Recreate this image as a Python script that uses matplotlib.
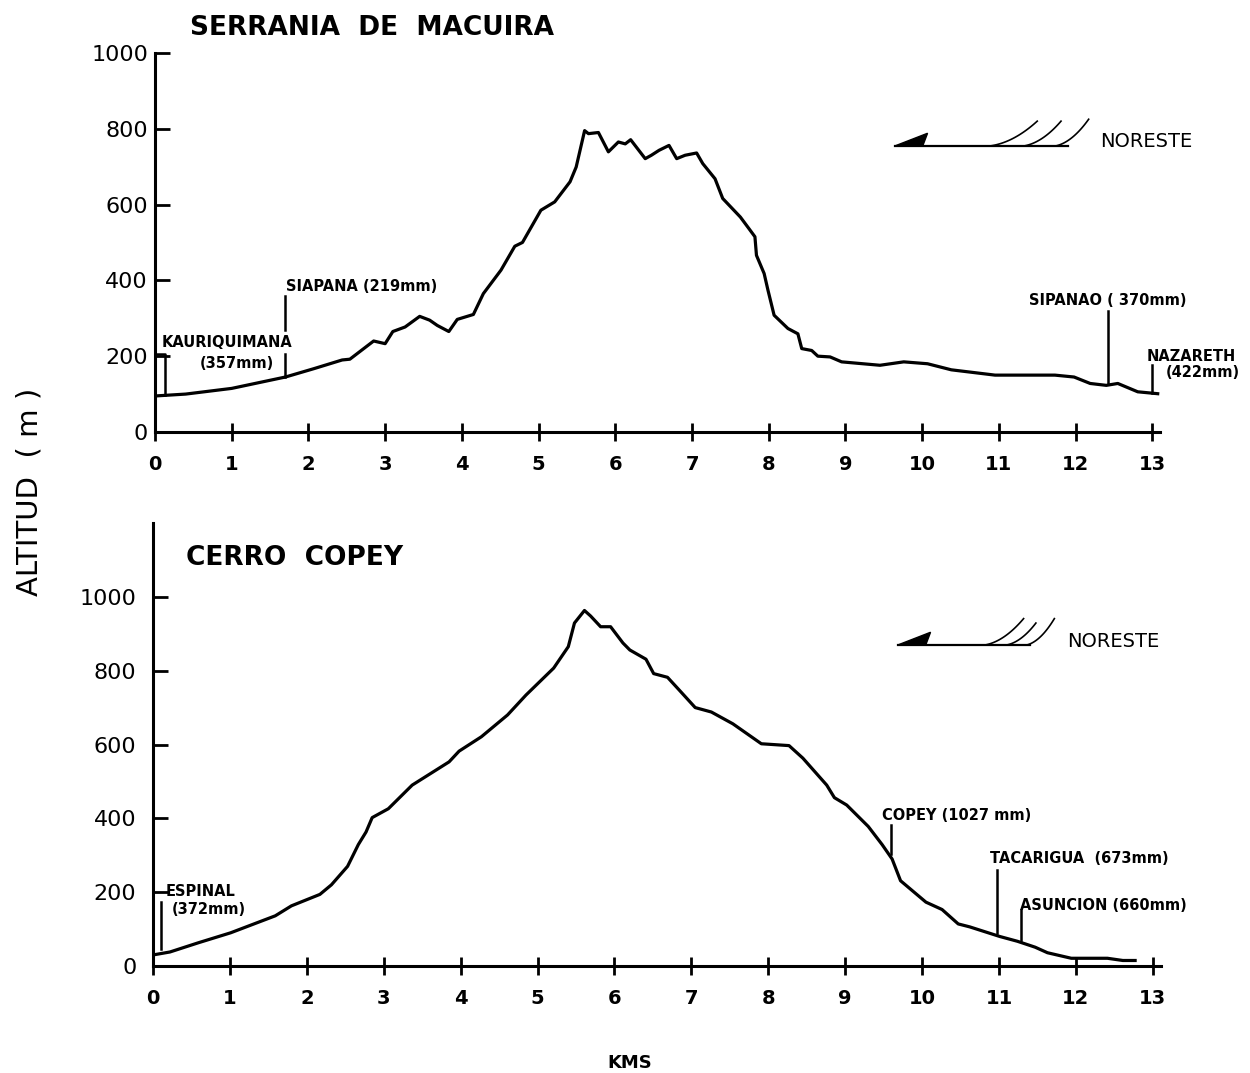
import numpy as np
import matplotlib
matplotlib.use("Agg")
import matplotlib.pyplot as plt
from matplotlib.patches import Polygon

# perfil Serrania de Macuira (km, m)
macuira_km = [0.0, 0.4, 1.0, 1.7, 2.07, 2.44, 2.54, 2.85, 3.0, 3.1, 3.26, 3.45, 3.58, 3.68,
              3.83, 3.94, 4.15, 4.28, 4.51, 4.69, 4.79, 5.03, 5.21, 5.41, 5.49, 5.6, 5.65,
              5.78, 5.91, 6.04, 6.13, 6.2, 6.39, 6.47, 6.57, 6.7, 6.8, 6.91, 7.06, 7.14,
              7.3, 7.4, 7.63, 7.74, 7.82, 7.84, 7.94, 7.99, 8.07, 8.25, 8.38, 8.43, 8.56,
              8.64, 8.8, 8.95, 9.45, 9.76, 10.07, 10.38, 10.95, 11.73, 11.98, 12.19, 12.4,
              12.55, 12.81, 13.07]
macuira_alt = [95, 100, 115, 145, 167, 190, 192, 240, 233, 265, 277, 305, 295, 281,
               265, 297, 310, 365, 427, 490, 500, 585, 607, 660, 699, 795, 787,
               790, 739, 765, 760, 771, 721, 730, 743, 756, 721, 730, 736, 708,
               668, 616, 567, 537, 515, 466, 418, 374, 308, 273, 259, 220, 215,
               200, 198, 185, 176, 185, 180, 164, 150, 150, 145, 128, 123,
               128, 106, 101]

# perfil Cerro Copey (km, m)
copey_km = [0.0, 0.22, 0.59, 1.01, 1.59, 1.8, 2.17, 2.32, 2.53, 2.67, 2.77, 2.85, 3.06,
            3.37, 3.85, 3.98, 4.27, 4.61, 4.85, 5.21, 5.4, 5.48, 5.61, 5.69, 5.82, 5.95,
            6.11, 6.2, 6.41, 6.51, 6.69, 6.84, 7.05, 7.26, 7.54, 7.91, 8.27, 8.45, 8.76,
            8.86, 9.02, 9.3, 9.48, 9.61, 9.72, 10.05, 10.26, 10.47, 10.62, 11.01, 11.24,
            11.47, 11.63, 11.94, 12.41, 12.61, 12.77]
copey_alt = [30, 38, 63, 90, 136, 163, 194, 220, 270, 329, 363, 402, 426,
             490, 553, 582, 621, 680, 734, 807, 865, 929, 963, 948, 919, 919,
             875, 856, 831, 792, 782, 748, 700, 688, 656, 602, 597, 563, 490,
             456, 436, 378, 329, 290, 231, 173, 153, 114, 106, 80, 67,
             51, 36, 21, 21, 15, 15]

macuira_names = ["KAURIQUIMANA", "SIAPANA", "SIPANAO", "NAZARETH"]
macuira_rain = [357, 219, 370, 422]
macuira_pos = [0.13, 1.7, 12.42, 13.0]

copey_names = ["ESPINAL", "COPEY", "TACARIGUA", "ASUNCION"]
copey_rain = [372, 1027, 673, 660]
copey_pos = [0.1, 9.6, 10.98, 11.28]

x_ticks = list(range(14))
macuira_yticks = [0, 200, 400, 600, 800, 1000]
copey_yticks = [0, 200, 400, 600, 800, 1000]

FONT = "DejaVu Sans"
LW = 2.3


def base_axes(ax, ymax, yticks):
    ax.set_xlim(0, 13.1)
    ax.set_ylim(0, ymax)
    for s in ["top", "right"]:
        ax.spines[s].set_visible(False)
    for s in ["left", "bottom"]:
        ax.spines[s].set_linewidth(2.2)
    ax.set_xticks(x_ticks)
    ax.set_xticklabels([str(t) for t in x_ticks], fontsize=14, fontweight="bold", family=FONT)
    ax.set_yticks(yticks)
    ax.set_yticklabels([str(t) for t in yticks], fontsize=16, family=FONT)
    ax.tick_params(axis="x", direction="inout", length=13, width=2, pad=10)
    ax.tick_params(axis="y", direction="in", length=11, width=2, pad=5)


def noreste(ax, tip, y0, length, feathers, dy):
    ax.plot([tip, tip + length], [y0, y0], color="black", lw=1.6, clip_on=False)
    ax.add_patch(Polygon([(tip, y0), (tip + 0.42, y0 + dy), (tip + 0.36, y0 + 1)],
                         closed=True, color="black", clip_on=False))
    t = np.linspace(0, 1, 30)
    for x0, x1, h in feathers:
        cx, cy = x0 + 0.5 * (x1 - x0), y0 + 0.15 * h
        xs = (1 - t) ** 2 * x0 + 2 * (1 - t) * t * cx + t ** 2 * x1
        ys = (1 - t) ** 2 * y0 + 2 * (1 - t) * t * cy + t ** 2 * (y0 + h)
        ax.plot(xs, ys, color="black", lw=1.2, clip_on=False)


def station(ax, x, top, bottom):
    ax.plot([x, x], [bottom, top], color="black", lw=1.8, clip_on=False)


fig = plt.figure(figsize=(12.5, 10.73), dpi=100)

# ---- panel superior
ax1 = fig.add_axes([0.124, 0.5974, 0.804, 0.3533])
base_axes(ax1, 1000, macuira_yticks)
ax1.plot(macuira_km, macuira_alt, color="black", lw=LW, solid_joinstyle="round")
ax1.text(0.45, 1065, "SERRANIA  DE  MACUIRA", fontsize=19, fontweight="bold",
         family=FONT, va="center", clip_on=False)

kx, sx, px, nx = macuira_pos
ky = np.interp(kx, macuira_km, macuira_alt)
ax1.plot([0, kx, kx], [205, 205, ky], color="black", lw=1.8)
ax1.text(0.08, 237, macuira_names[0], fontsize=10.5, fontweight="bold", family=FONT, va="center")
ax1.text(0.58, 180, "(%dmm)" % macuira_rain[0], fontsize=10.5, fontweight="bold", family=FONT, va="center")
sy = np.interp(sx, macuira_km, macuira_alt)
station(ax1, sx, 360, 268)
station(ax1, sx, 205, sy)
ax1.text(1.71, 383, "%s (%dmm)" % (macuira_names[1], macuira_rain[1]), fontsize=10.5,
         fontweight="bold", family=FONT, va="center")
py = np.interp(px, macuira_km, macuira_alt)
station(ax1, px, 318, py + 6)
ax1.text(11.39, 346, "%s ( %dmm)" % (macuira_names[2], macuira_rain[2]), fontsize=10.5,
         fontweight="bold", family=FONT, va="center", clip_on=False)
ny = np.interp(nx, macuira_km, macuira_alt)
station(ax1, nx, 176, ny)
ax1.text(12.92, 198, macuira_names[3], fontsize=10.5, fontweight="bold", family=FONT,
         va="center", clip_on=False)
ax1.text(13.18, 158, "(%dmm)" % macuira_rain[3], fontsize=10.5, fontweight="bold",
         family=FONT, va="center", clip_on=False)

noreste(ax1, 9.65, 755, 2.25, [(10.9, 11.5, 65), (11.34, 11.81, 65), (11.75, 12.17, 70)], 33)
ax1.text(12.32, 765, "NORESTE", fontsize=14, family=FONT, va="center", clip_on=False)

# ---- panel inferior
ax2 = fig.add_axes([0.1224, 0.0997, 0.806, 0.4129])
base_axes(ax2, 1200, copey_yticks)
ax2.tick_params(axis="y", pad=12)
ax2.plot(copey_km, copey_alt, color="black", lw=LW, solid_joinstyle="round")
ax2.text(0.43, 1104, "CERRO  COPEY", fontsize=19, fontweight="bold", family=FONT, va="center")

ex, cx, tx, ax_ = copey_pos
station(ax2, ex, 173, np.interp(ex, copey_km, copey_alt) + 12)
ax2.text(0.17, 202, copey_names[0], fontsize=10.5, fontweight="bold", family=FONT, va="center")
ax2.text(0.24, 153, "(%dmm)" % copey_rain[0], fontsize=10.5, fontweight="bold", family=FONT, va="center")
station(ax2, cx, 382, np.interp(cx, copey_km, copey_alt) + 10)
ax2.text(9.48, 407, "%s (%d mm)" % (copey_names[1], copey_rain[1]), fontsize=10.5,
         fontweight="bold", family=FONT, va="center")
station(ax2, tx, 260, np.interp(tx, copey_km, copey_alt) + 8)
ax2.text(10.88, 290, "%s  (%dmm)" % (copey_names[2], copey_rain[2]), fontsize=10.5,
         fontweight="bold", family=FONT, va="center", clip_on=False)
station(ax2, ax_, 153, np.interp(ax_, copey_km, copey_alt) + 6)
ax2.text(11.27, 163, "%s (%dmm)" % (copey_names[3], copey_rain[3]), fontsize=10.5,
         fontweight="bold", family=FONT, va="center", clip_on=False)

noreste(ax2, 9.69, 870, 1.71, [(10.83, 11.32, 71), (11.11, 11.48, 59), (11.37, 11.72, 71)], 34)
ax2.text(11.89, 880, "NORESTE", fontsize=14, family=FONT, va="center", clip_on=False)

fig.text(30 / 1250, 1 - 492 / 1073, "ALTITUD  ( m )", rotation=90, fontsize=21,
         family=FONT, ha="center", va="center")
fig.text(630 / 1250, 1 - 1063 / 1073, "KMS", fontsize=13, fontweight="bold",
         family=FONT, ha="center", va="center")

fig.savefig("out.png", dpi=100, facecolor="white")
